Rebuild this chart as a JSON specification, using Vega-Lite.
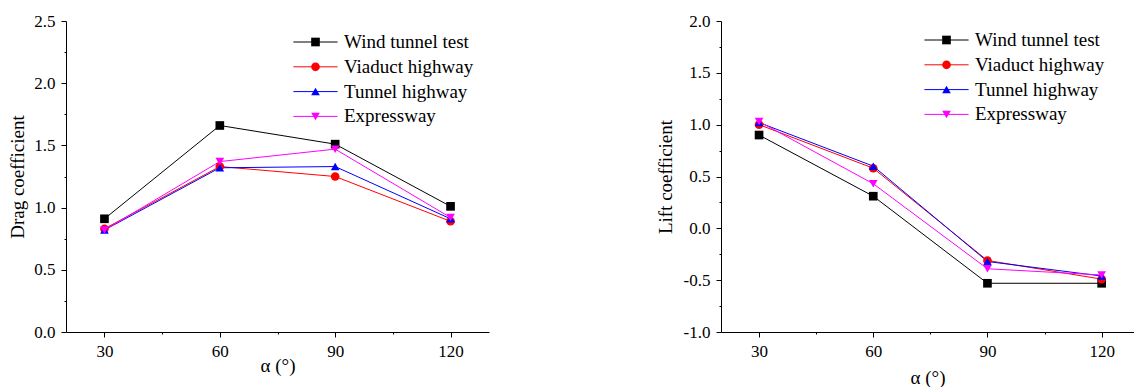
{
  "$schema": "https://vega.github.io/schema/vega-lite/v6.json",
  "padding": {"left": 8, "top": 12, "right": 0, "bottom": 0},
  "spacing": 167,
  "datasets": {
    "drag": [
      {"alpha": 30, "series": "Wind tunnel test", "value": 0.91},
      {"alpha": 60, "series": "Wind tunnel test", "value": 1.66},
      {"alpha": 90, "series": "Wind tunnel test", "value": 1.51},
      {"alpha": 120, "series": "Wind tunnel test", "value": 1.01},
      {"alpha": 30, "series": "Viaduct highway", "value": 0.83},
      {"alpha": 60, "series": "Viaduct highway", "value": 1.33},
      {"alpha": 90, "series": "Viaduct highway", "value": 1.25},
      {"alpha": 120, "series": "Viaduct highway", "value": 0.89},
      {"alpha": 30, "series": "Tunnel highway", "value": 0.82},
      {"alpha": 60, "series": "Tunnel highway", "value": 1.32},
      {"alpha": 90, "series": "Tunnel highway", "value": 1.33},
      {"alpha": 120, "series": "Tunnel highway", "value": 0.91},
      {"alpha": 30, "series": "Expressway", "value": 0.82},
      {"alpha": 60, "series": "Expressway", "value": 1.37},
      {"alpha": 90, "series": "Expressway", "value": 1.47},
      {"alpha": 120, "series": "Expressway", "value": 0.92}
    ],
    "lift": [
      {"alpha": 30, "series": "Wind tunnel test", "value": 0.90},
      {"alpha": 60, "series": "Wind tunnel test", "value": 0.31},
      {"alpha": 90, "series": "Wind tunnel test", "value": -0.53},
      {"alpha": 120, "series": "Wind tunnel test", "value": -0.53},
      {"alpha": 30, "series": "Viaduct highway", "value": 1.00},
      {"alpha": 60, "series": "Viaduct highway", "value": 0.58},
      {"alpha": 90, "series": "Viaduct highway", "value": -0.31},
      {"alpha": 120, "series": "Viaduct highway", "value": -0.49},
      {"alpha": 30, "series": "Tunnel highway", "value": 1.02},
      {"alpha": 60, "series": "Tunnel highway", "value": 0.60},
      {"alpha": 90, "series": "Tunnel highway", "value": -0.32},
      {"alpha": 120, "series": "Tunnel highway", "value": -0.46},
      {"alpha": 30, "series": "Expressway", "value": 1.03},
      {"alpha": 60, "series": "Expressway", "value": 0.43},
      {"alpha": 90, "series": "Expressway", "value": -0.39},
      {"alpha": 120, "series": "Expressway", "value": -0.45}
    ]
  },
  "resolve": {"scale": {"color": "independent", "stroke": "independent", "shape": "independent"}},
  "hconcat": [
    {
      "width": 423,
      "height": 311,
      "data": {"name": "drag"},
      "resolve": {"axis": {"x": "independent", "y": "independent"}},
      "layer": [
        {
          "mark": {"type": "line", "strokeWidth": 1},
          "encoding": {
            "x": {"field": "alpha", "type": "quantitative", "scale": {"domain": [20, 130], "nice": false, "zero": false},
              "axis": {"orient": "bottom", "values": [45, 75, 105], "tickSize": 2, "labels": false, "domain": false, "title": null}},
            "y": {"field": "value", "type": "quantitative", "scale": {"domain": [0, 2.5], "nice": false, "zero": false},
              "axis": {"orient": "left", "values": [0.25, 0.75, 1.25, 1.75, 2.25], "tickSize": 2, "labels": false, "domain": false, "title": null}},
            "stroke": {"field": "series", "type": "nominal",
              "scale": {"domain": ["Wind tunnel test", "Viaduct highway", "Tunnel highway", "Expressway"], "range": ["#000000", "#ff0000", "#0000ff", "#ff00ff"]},
              "legend": {"orient": "none", "legendX": 240, "legendY": 11.5, "title": null, "symbolType": "M-5.1,0H5.1", "symbolSize": 75, "symbolStrokeWidth": 1, "labelOffset": 19, "rowPadding": 4.8, "padding": 0, "labelLimit": 400}}
          }
        },
        {
          "mark": {"type": "point", "filled": true, "size": 75, "opacity": 1},
          "encoding": {
            "x": {"field": "alpha", "type": "quantitative", "scale": {"domain": [20, 130], "nice": false, "zero": false},
              "axis": {"orient": "bottom", "values": [30, 60, 90, 120], "tickSize": 5, "labelPadding": 6, "title": "α (°)", "titlePadding": -3}},
            "y": {"field": "value", "type": "quantitative", "scale": {"domain": [0, 2.5], "nice": false, "zero": false},
              "axis": {"orient": "left", "values": [0, 0.5, 1, 1.5, 2, 2.5], "format": ".1f", "tickSize": 5, "labelPadding": 6, "title": "Drag coefficient", "titlePadding": 6}},
            "color": {"field": "series", "type": "nominal", "sort": null,
              "scale": {"range": ["#000000", "#ff0000", "#0000ff", "#ff00ff"]},
              "legend": {"orient": "none", "legendX": 240, "legendY": 11.5, "title": null, "symbolSize": 75, "symbolStrokeWidth": 0, "labelOffset": 19, "rowPadding": 4.8, "padding": 0, "labelLimit": 400, "labelOpacity": 0}},
            "shape": {"field": "series", "type": "nominal", "sort": null,
              "scale": {"range": ["square", "circle", "triangle-up", "triangle-down"]},
              "legend": {"orient": "none", "legendX": 240, "legendY": 11.5, "title": null, "symbolSize": 75, "symbolStrokeWidth": 0, "labelOffset": 19, "rowPadding": 4.8, "padding": 0, "labelLimit": 400, "labelOpacity": 0}}
          }
        }
      ]
    },
    {
      "width": 413,
      "height": 311,
      "data": {"name": "lift"},
      "resolve": {"axis": {"x": "independent", "y": "independent"}},
      "layer": [
        {
          "mark": {"type": "line", "strokeWidth": 1},
          "encoding": {
            "x": {"field": "alpha", "type": "quantitative", "scale": {"domain": [20, 128.5], "nice": false, "zero": false},
              "axis": {"orient": "bottom", "values": [45, 75, 105], "tickSize": 2, "labels": false, "domain": false, "title": null}},
            "y": {"field": "value", "type": "quantitative", "scale": {"domain": [-1, 2], "nice": false, "zero": false},
              "axis": {"orient": "left", "values": [-0.75, -0.25, 0.25, 0.75, 1.25, 1.75], "tickSize": 2, "labels": false, "domain": false, "title": null}},
            "stroke": {"field": "series", "type": "nominal",
              "scale": {"domain": ["Wind tunnel test", "Viaduct highway", "Tunnel highway", "Expressway"], "range": ["#000000", "#ff0000", "#0000ff", "#ff00ff"]},
              "legend": {"orient": "none", "legendX": 216, "legendY": 9.5, "title": null, "symbolType": "M-5.1,0H5.1", "symbolSize": 75, "symbolStrokeWidth": 1, "labelOffset": 19, "rowPadding": 4.8, "padding": 0, "labelLimit": 400}}
          }
        },
        {
          "mark": {"type": "point", "filled": true, "size": 75, "opacity": 1},
          "encoding": {
            "x": {"field": "alpha", "type": "quantitative", "scale": {"domain": [20, 128.5], "nice": false, "zero": false},
              "axis": {"orient": "bottom", "values": [30, 60, 90, 120], "tickSize": 5, "labelPadding": 6, "title": "α (°)", "titlePadding": 9}},
            "y": {"field": "value", "type": "quantitative", "scale": {"domain": [-1, 2], "nice": false, "zero": false},
              "axis": {"orient": "left", "values": [-1, -0.5, 0, 0.5, 1, 1.5, 2], "labelExpr": "(datum.value < 0 ? '-' : '') + format(abs(datum.value), '.1f')", "tickSize": 5, "labelPadding": 6, "title": "Lift coefficient", "titlePadding": 8}},
            "color": {"field": "series", "type": "nominal", "sort": null,
              "scale": {"range": ["#000000", "#ff0000", "#0000ff", "#ff00ff"]},
              "legend": {"orient": "none", "legendX": 216, "legendY": 9.5, "title": null, "symbolSize": 75, "symbolStrokeWidth": 0, "labelOffset": 19, "rowPadding": 4.8, "padding": 0, "labelLimit": 400, "labelOpacity": 0}},
            "shape": {"field": "series", "type": "nominal", "sort": null,
              "scale": {"range": ["square", "circle", "triangle-up", "triangle-down"]},
              "legend": {"orient": "none", "legendX": 216, "legendY": 9.5, "title": null, "symbolSize": 75, "symbolStrokeWidth": 0, "labelOffset": 19, "rowPadding": 4.8, "padding": 0, "labelLimit": 400, "labelOpacity": 0}}
          }
        }
      ]
    }
  ],
  "config": {
    "view": {"stroke": null},
    "font": "Liberation Serif",
    "axis": {"labelFont": "Liberation Serif", "labelFontSize": 17, "labelColor": "#000000", "titleFont": "Liberation Serif", "titleFontSize": 19, "titleFontWeight": "normal", "titleColor": "#000000", "domainColor": "#000000", "tickColor": "#000000", "domainWidth": 1, "tickWidth": 1, "grid": false, "labelFlush": false},
    "legend": {"labelFont": "Liberation Serif", "labelFontSize": 19, "labelColor": "#000000"}
  }
}
